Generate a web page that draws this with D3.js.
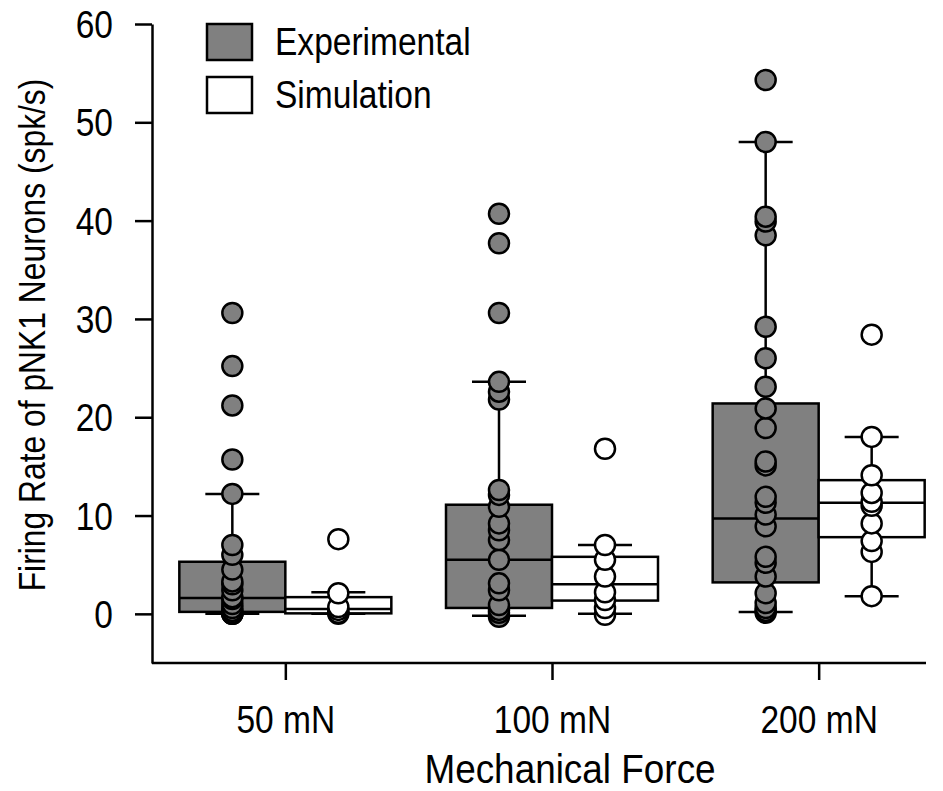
<!DOCTYPE html>
<html lang="en">
<head>
<meta charset="utf-8">
<style>
body {
  margin: 0;
  background: #fff;
}
text {
  font-family: 'Liberation Sans', Arial, sans-serif;
  fill: #000;
}
.box {
  stroke: #000;
  stroke-width: 2.5;
}
.dot {
  stroke: #000;
  stroke-width: 2.5;
}
</style>
<title>Firing rate</title>
<script src="https://cdn.jsdelivr.net/npm/d3@7"></script>
</head>
<body>
<div id="chart"></div>
<script>

var categories = ["50 mN", "100 mN", "200 mN"];
var series = ["Experimental", "Simulation"];
var yTicks = [0, 10, 20, 30, 40, 50, 60];

// raw points, one array per force
var expPoints = [
  [0, 0, 0, 0.1, 0.3, 0.6, 1.0, 1.5, 1.7, 2.4, 3.0, 3.3, 4.5, 6.0, 7.0, 12.2, 15.7, 21.2, 25.2, 30.6],
  [-0.3, 0.1, 0.4, 0.9, 2.4, 3.1, 5.5, 7.5, 8.5, 9.2, 10.9, 12.1, 12.6, 21.8, 22.6, 23.6, 30.6, 37.7, 40.7],
  [0.1, 0.3, 0.6, 1.1, 2.1, 3.8, 5.2, 5.8, 8.9, 10.1, 11.3, 11.9, 15.1, 15.5, 18.9, 20.9, 23.1, 26.0, 29.2, 38.5, 39.9, 40.4, 48.0, 54.3]
];
var simPoints = [
  [0, 0.1, 0.4, 0.7, 2.1, 7.6],
  [-0.1, 0.6, 1.4, 2.2, 3.8, 5.5, 7.0, 16.8],
  [1.8, 6.3, 7.4, 9.2, 11.0, 11.4, 12.3, 14.1, 18.0, 28.4]
];

// box stats: [whisker low, q1, median, q3, whisker high]
var expStats = [[0, 0.2, 1.6, 5.3, 12.2], [-0.2, 0.6, 5.5, 11.1, 23.6], [0.2, 3.2, 9.7, 21.4, 48.0]];
var simStats = [[0, 0.05, 0.5, 1.7, 2.2], [0, 1.35, 3.0, 5.8, 7.0], [1.8, 7.8, 11.3, 13.6, 18.0]];

var fills = {"Experimental": "#808080", "Simulation": "#ffffff"};
var SX = 0.86; // condensed type

var w = 943, h = 791;

var svg = d3.select("#chart").append("svg")
  .attr("width", w)
  .attr("height", h);

var x = d3.scalePoint()
  .domain(categories)
  .range([152, 952])
  .padding(0.5);

var xs = d3.scaleBand()
  .domain(series)
  .range([-106, 106]);

var y = d3.scaleLinear()
  .domain([-5, 60])
  .range([663, 24]);

// axes
var yAxis = svg.append("g")
  .attr("transform", "translate(152,0)")
  .call(d3.axisLeft(y).tickValues(yTicks).tickSize(17).tickSizeOuter(0).tickFormat(d3.format("d")));
yAxis.select(".domain").attr("stroke-width", 2.5);
yAxis.selectAll(".tick line").attr("stroke-width", 2.5);
yAxis.selectAll(".tick text")
  .attr("x", null)
  .attr("dy", "0.35em")
  .attr("transform", "translate(-39,0) scale(" + SX + ",1)")
  .style("font-size", "39px");

var xAxis = svg.append("g")
  .attr("transform", "translate(0,663)")
  .call(d3.axisBottom(x).tickSize(17).tickSizeOuter(0));
xAxis.select(".domain").remove();
xAxis.append("line")
  .attr("x1", 152).attr("x2", 926)
  .attr("stroke", "#000").attr("stroke-width", 2.5);
xAxis.selectAll(".tick line").attr("stroke-width", 2.5);
xAxis.selectAll(".tick text")
  .attr("y", null)
  .attr("dy", null)
  .attr("transform", "translate(0,70) scale(" + SX + ",1)")
  .style("font-size", "39px");

// boxes
function drawGroup(name, stats, points) {
  var g = svg.append("g");
  categories.forEach(function(c, i) {
    var left = x(c) + xs(name);
    var cx = left + xs.bandwidth() / 2;
    var s = stats[i];

    g.append("line")
      .attr("x1", cx).attr("x2", cx)
      .attr("y1", y(s[0])).attr("y2", y(s[4]))
      .attr("stroke", "#000").attr("stroke-width", 2.5);
    [s[0], s[4]].forEach(function(v) {
      g.append("line")
        .attr("x1", cx - 27).attr("x2", cx + 27)
        .attr("y1", y(v)).attr("y2", y(v))
        .attr("stroke", "#000").attr("stroke-width", 2.5);
    });

    g.append("rect")
      .attr("class", "box")
      .attr("x", left)
      .attr("y", y(s[3]))
      .attr("width", xs.bandwidth())
      .attr("height", y(s[1]) - y(s[3]))
      .attr("fill", fills[name]);
    g.append("line")
      .attr("x1", left).attr("x2", left + xs.bandwidth())
      .attr("y1", y(s[2])).attr("y2", y(s[2]))
      .attr("stroke", "#000").attr("stroke-width", 2.5);

    g.selectAll(null)
      .data(points[i])
      .enter()
      .append("circle")
      .attr("class", "dot")
      .attr("cx", cx)
      .attr("cy", function(d) { return y(d); })
      .attr("r", 10)
      .attr("fill", fills[name]);
  });
}
drawGroup("Experimental", expStats, expPoints);
drawGroup("Simulation", simStats, simPoints);

// legend
var legend = svg.append("g");
series.forEach(function(s, i) {
  legend.append("rect")
    .attr("class", "box")
    .attr("x", 207)
    .attr("y", 24 + i * 53)
    .attr("width", 45)
    .attr("height", 36)
    .attr("fill", fills[s]);
  legend.append("text")
    .attr("transform", "translate(275," + (55 + i * 53) + ") scale(" + SX + ",1)")
    .style("font-size", "39px")
    .text(s);
});

// titles
svg.append("text")
  .attr("transform", "translate(570,783) scale(0.9,1)")
  .attr("text-anchor", "middle")
  .style("font-size", "41px")
  .text("Mechanical Force");

svg.append("text")
  .attr("transform", "translate(45,335) rotate(-90) scale(" + SX + ",1)")
  .attr("text-anchor", "middle")
  .style("font-size", "37px")
  .text("Firing Rate of pNK1 Neurons (spk/s)");

</script>
</body>
</html>
